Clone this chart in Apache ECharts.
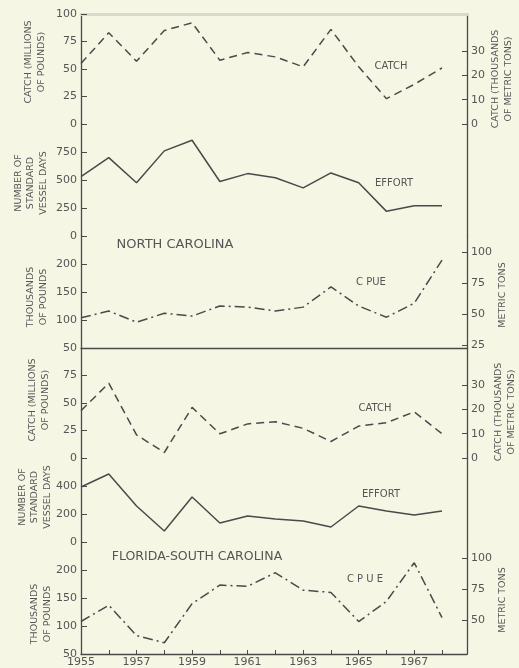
<!DOCTYPE html>
<html>
<head>
<meta charset="utf-8">
<script src="https://cdn.jsdelivr.net/npm/echarts@6/dist/echarts.min.js"></script>
<style>
html,body{margin:0;padding:0;background:#f5f6e4;}
#c{width:519px;height:668px;}
</style>
</head>
<body>
<div id="c"></div>
<script>
// ---- data ----
const years = [1955,1956,1957,1958,1959,1960,1961,1962,1963,1964,1965,1966,1967,1968];
const ncCatch  = [55,83,57,85,92,58,65,61,52,86,52,23,36,51];
const ncEffort = [530,700,475,760,855,487,557,520,430,563,475,220,270,270];
const ncCpue   = [104,116,96,112,107,125,123,116,123,159,125,105,130,207];
const flCatch  = [43,68,21,5,46,22,31,33,27,15,29,32,42,22];
const flEffort = [393,486,257,79,321,136,186,164,150,107,257,221,193,221];
const flCpue   = [108,137,83,70,140,173,171,195,164,160,108,144,213,115];

// ---- tick labels ----
const xLabelYears = [1955,1957,1959,1961,1963,1965,1967];
const ncCatchTicks = [0,25,50,75,100];
const flCatchTicks = [0,25,50,75];
const ncEffortTicks = [0,250,500,750];
const flEffortTicks = [0,200,400];
const cpueTicks = [50,100,150,200];
const catchTonTicks = [0,10,20,30];
const ncCpueTonTicks = [25,50,75,100];
const flCpueTonTicks = [50,75,100];

const LB_PER_KG = 2.20462;
const INK = '#4a4a4a';
const TXT = '#555';
const FONT = 'DejaVu Sans';

const pairs = arr => years.map((y,i)=>[y,arr[i]]);

// panel layouts (top, height, min, max)
const panels = [
  {top:14,  h:110, min:0,  max:100},
  {top:124, h:112, min:0,  max:1000},
  {top:236, h:112, min:50, max:250},
  {top:348, h:110, min:0,  max:100},
  {top:458, h:84,  min:0,  max:600},
  {top:542, h:112, min:50, max:250}
];
const leftTicks = [ncCatchTicks, ncEffortTicks, cpueTicks, flCatchTicks, flEffortTicks, cpueTicks];
const rightDefs = [
  {f:1/LB_PER_KG, ticks:catchTonTicks},
  null,
  {f:1/LB_PER_KG, ticks:ncCpueTonTicks},
  {f:1/LB_PER_KG, ticks:catchTonTicks},
  null,
  {f:1/LB_PER_KG, ticks:flCpueTonTicks}
];

const grid = panels.map(p=>({left:81, right:52, top:p.top, height:p.h, containLabel:false}));

const xAxis = panels.map((p,i)=>{
  const base = {type:'value', gridIndex:i, min:1955, max:1968.9, interval:1,
    splitLine:{show:false}, axisTick:{show:false}, axisLabel:{show:false},
    axisLine:{show:false}};
  if (i===0) {
    base.position = 'top';
    base.axisLine = {show:true, onZero:false, lineStyle:{color:'#d9dac8', width:3}};
  }
  if (i===2) {
    base.axisLine = {show:true, onZero:false, lineStyle:{color:INK, width:1.3}};
  }
  if (i===5) {
    base.axisLine = {show:true, onZero:false, lineStyle:{color:INK, width:1.3}};
    base.axisTick = {show:true, inside:true, length:4, customValues:years, lineStyle:{color:INK}};
    base.axisLabel = {show:true, customValues:xLabelYears, fontSize:11, color:TXT, fontFamily:FONT, margin:3,
      formatter: v => String(Math.round(v))};
  }
  return base;
});

const yAxis = [];
panels.forEach((p,i)=>{
  yAxis.push({type:'value', gridIndex:i, position:'left', min:p.min, max:p.max,
    splitLine:{show:false},
    axisLine:{show:true, onZero:false, lineStyle:{color:INK, width:1.3}},
    axisTick:{show:true, inside:true, length:6, customValues:leftTicks[i], lineStyle:{color:INK}},
    axisLabel:{show:true, customValues:leftTicks[i], fontSize:11, color:TXT, fontFamily:FONT, margin:4}
  });
  const r = rightDefs[i];
  if (r) {
    yAxis.push({type:'value', gridIndex:i, position:'right', min:p.min*r.f, max:p.max*r.f,
      splitLine:{show:false},
      axisLine:{show:true, onZero:false, lineStyle:{color:INK, width:1.3}},
      axisTick:{show:true, inside:true, length:5, customValues:r.ticks, lineStyle:{color:INK}},
      axisLabel:{show:true, customValues:r.ticks, fontSize:11, color:TXT, fontFamily:FONT, margin:4}
    });
  } else {
    yAxis.push({type:'value', gridIndex:i, position:'right', min:p.min, max:p.max,
      splitLine:{show:false},
      axisLine:{show:true, onZero:false, lineStyle:{color:INK, width:1.3}},
      axisTick:{show:false}, axisLabel:{show:false}
    });
  }
});

const styles = [
  [8,5],
  'solid',
  [10,4,2,4],
  [8,5],
  'solid',
  [10,4,2,4]
];
const seriesData = [ncCatch, ncEffort, ncCpue, flCatch, flEffort, flCpue];
const series = seriesData.map((d,i)=>({
  type:'line', xAxisIndex:i, yAxisIndex:i*2, data:pairs(d),
  symbol:'none', silent:true, animation:false,
  lineStyle:{color:INK, width:1.5, type:styles[i]}
}));

function vtext(x,y,t){
  return {type:'text', x:x, y:y, rotation:Math.PI/2, silent:true,
    style:{text:t, fill:TXT, font:'9.5px "DejaVu Sans"', align:'center', verticalAlign:'middle', lineHeight:12.5}};
}
function htext(x,y,t,size){
  return {type:'text', x:x, y:y, silent:true,
    style:{text:t, fill:TXT, font:(size||10)+'px "DejaVu Sans"', align:'center', verticalAlign:'middle'}};
}

const graphic = [
  vtext(35,62,'CATCH (MILLIONS\nOF POUNDS)'),
  vtext(31,183,'NUMBER OF\nSTANDARD\nVESSEL DAYS'),
  vtext(37,297,'THOUSANDS\nOF POUNDS'),
  vtext(39,400,'CATCH (MILLIONS\nOF POUNDS)'),
  vtext(35,497,'NUMBER OF\nSTANDARD\nVESSEL DAYS'),
  vtext(41,614,'THOUSANDS\nOF POUNDS'),
  vtext(502,79,'CATCH (THOUSANDS\nOF METRIC TONS)'),
  vtext(503,295,'METRIC TONS'),
  vtext(505,412,'CATCH (THOUSANDS\nOF METRIC TONS)'),
  vtext(503,600,'METRIC TONS'),
  htext(391,66,'CATCH'),
  htext(394,183,'EFFORT'),
  htext(371,282,'C PUE'),
  htext(175,245,'NORTH CAROLINA',13),
  htext(375,408,'CATCH'),
  htext(381,494,'EFFORT'),
  htext(365,579,'C P U E'),
  htext(197,557,'FLORIDA-SOUTH CAROLINA',12.5),
  {type:'line', silent:true, shape:{x1:456,y1:14,x2:467,y2:14}, style:{stroke:INK, lineWidth:1.3}}
];

const chart = echarts.init(document.getElementById('c'), null, {renderer:'canvas'});
chart.setOption({
  backgroundColor:'#f5f6e4',
  animation:false,
  grid, xAxis, yAxis, series, graphic
});
</script>
</body>
</html>
